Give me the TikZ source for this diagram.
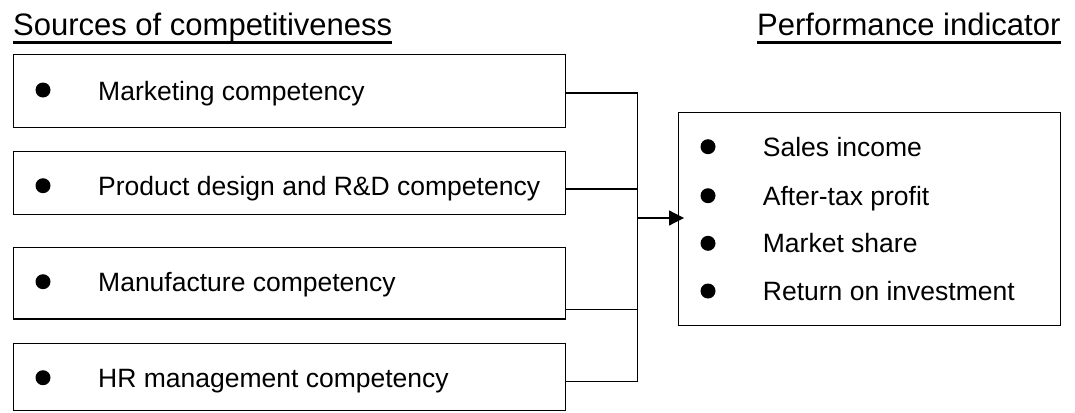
\documentclass[tikz,border=0pt]{standalone}
\usepackage{fontspec}
\setmainfont{Liberation Sans}
\usetikzlibrary{arrows.meta}
\begin{document}
\begin{tikzpicture}[x=1pt,y=-1pt,
  box/.style={draw,line width=1.2pt,inner sep=0,anchor=north west},
  bul/.style={circle,fill,inner sep=0,minimum size=15pt},
  txt/.style={anchor=base west,inner sep=0,font=\fontsize{26.5}{30}\selectfont},
  head/.style={anchor=base west,inner sep=0,font=\fontsize{31}{36}\selectfont},
  ul/.style={line width=2.4pt},
  conn/.style={line width=1.2pt}]
\useasboundingbox (0,0) rectangle (1075,412);
% headings
\node[head] (h1) at (13,36) {Sources of competitiveness};
\node[head] (h2) at (757,36) {Performance indicator};
\draw[ul] ([yshift=-6.5pt]h1.base west) -- ([yshift=-6.5pt]h1.base east);
\draw[ul] ([yshift=-6.5pt]h2.base west) -- ([yshift=-6.5pt]h2.base east);
% left boxes
\node[box,minimum width=552.3pt,minimum height=72.7pt] (b1) at (12.7,54) {};
\node[box,minimum width=552.3pt,minimum height=63.3pt] (b2) at (12.7,150.7) {};
\node[box,minimum width=552.3pt,minimum height=71.6pt] (b3) at (12.7,246.7) {};
\node[box,minimum width=552.3pt,minimum height=67.5pt] (b4) at (12.7,342.5) {};
\node[bul] (d1) at (43,90) {};
\node[bul] (d2) at (43,185.7) {};
\node[bul] (d3) at (43,281.7) {};
\node[bul] (d4) at (43,377.7) {};
\node[txt] (t1) at (98,100) {Marketing competency};
\node[txt] (t2) at (98,195.7) {Product design and R\&D competency};
\node[txt] (t3) at (98,291.7) {Manufacture competency};
\node[txt] (t4) at (98,387.7) {HR management competency};
% right box
\node[box,minimum width=382pt,minimum height=213pt] (rb) at (678,112) {};
\node[bul] (e1) at (708,146.7) {};
\node[bul] (e2) at (708,195.7) {};
\node[bul] (e3) at (708,243.3) {};
\node[bul] (e4) at (708,291) {};
\node[txt] (s1) at (762.7,156.2) {Sales income};
\node[txt] (s2) at (762.7,205.2) {After-tax profit};
\node[txt] (s3) at (762.7,252.8) {Market share};
\node[txt] (s4) at (762.7,300.5) {Return on investment};
% connectors
\coordinate (j1) at (637.3,93);
\coordinate (j2) at (637.3,189);
\coordinate (j3) at (637.3,309.3);
\coordinate (j4) at (637.3,381.7);
\coordinate (jm) at (637.3,218);
\draw[conn] (b1.east |- j1) -- (j1) -- (j4) -- (b4.east |- j4);
\draw[conn] (b2.east |- j2) -- (j2);
\draw[conn] (b3.east |- j3) -- (j3);
\draw[conn,-{Triangle[length=15pt,width=15pt]}] (jm) -- ([xshift=6pt]rb.west |- jm);
\end{tikzpicture}
\end{document}
